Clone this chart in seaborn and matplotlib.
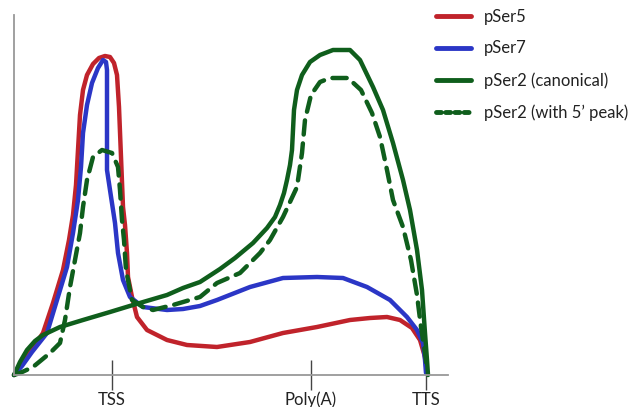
import matplotlib
matplotlib.use("Agg")
import matplotlib.pyplot as plt
import seaborn as sns
import pandas as pd

series_names = ["pSer5", "pSer7", "pSer2 (canonical)", "pSer2 (with 5\u2019 peak)"]

red_x = [0, 14, 29, 39, 49, 55, 59, 62, 64, 66, 69, 73, 79, 85, 91, 96, 100, 103, 105, 107, 109, 111, 113, 114,
         118, 123, 133, 153, 173, 203, 236, 269, 303, 336, 356, 373, 386, 398, 406, 411, 413]
red_y = [0, 20, 42, 72, 105, 135, 160, 190, 225, 260, 285, 300, 311, 317, 319, 318, 312, 300, 268, 218, 168, 150, 122, 98,
         78, 58, 45, 35, 30, 28, 33, 42, 48, 55, 57, 58, 55, 47, 35, 18, 2]

blue_x = [0, 8, 18, 33, 43, 53, 59, 64, 67, 69, 73, 78, 84, 89, 92, 93, 93, 93, 93, 96, 101, 104,
          109, 116, 129, 153, 169, 186, 203, 236, 269, 303, 329, 353, 376, 393, 403, 409, 411, 412]
blue_y = [0, 9, 23, 42, 75, 108, 142, 175, 208, 242, 270, 292, 307, 315, 313, 305, 275, 235, 205, 185, 152, 122,
          95, 78, 68, 65, 66, 69, 75, 88, 97, 98, 97, 88, 75, 58, 45, 32, 15, 2]

green_x = [0, 6, 13, 21, 29, 46, 69, 96, 119, 136, 153, 169, 186, 206, 221, 239, 253, 261, 266, 270, 273, 276, 278,
           279, 280, 283, 288, 296, 306, 319, 336, 346, 359, 369, 379, 389, 396, 403, 408, 411, 413, 414]
green_y = [0, 13, 25, 34, 40, 48, 55, 63, 70, 75, 80, 87, 93, 106, 117, 132, 147, 158, 170, 182, 195, 210, 225,
           245, 265, 285, 300, 313, 320, 325, 325, 315, 288, 265, 232, 195, 165, 125, 85, 42, 15, 0]

dash_x = [0, 6, 19, 36, 46, 51, 56, 61, 66, 69, 73, 79, 88, 98, 104, 106, 108, 110, 112, 118, 129,
          139, 159, 186, 203, 226, 246, 256, 269, 283, 288, 291, 297, 306, 316, 334, 347, 358, 366,
          373, 379, 389, 397, 403, 407, 411, 413]
dash_y = [0, 2, 8, 22, 32, 55, 88, 115, 142, 168, 195, 218, 225, 222, 208, 185, 155, 135, 105, 75, 68,
          65, 70, 78, 92, 102, 122, 135, 158, 188, 222, 255, 280, 293, 297, 297, 285, 262, 238,
          205, 175, 148, 115, 80, 48, 22, 5]

tick_pos = [98, 297, 412]
tick_labels = ["TSS", "Poly(A)", "TTS"]

colors = ["#C0232B", "#2B36C6", "#0F5E1C", "#0F5E1C"]

# ---- build long table ----
frames = []
for name, xs, ys in zip(series_names, [red_x, blue_x, green_x, dash_x], [red_y, blue_y, green_y, dash_y]):
    frames.append(pd.DataFrame({"x": xs, "y": ys, "series": name}))
df = pd.concat(frames, ignore_index=True)

sns.set_style("white")
plt.rcParams["font.family"] = ["Lato", "DejaVu Sans"]

fig = plt.figure(figsize=(6.34, 4.07), dpi=100)
ax = fig.add_axes([14 / 634, 32 / 407, 434 / 634, 360 / 407])

sns.lineplot(data=df, x="x", y="y", hue="series", style="series", sort=False, estimator=None,
             units="series", hue_order=series_names, style_order=series_names,
             palette=dict(zip(series_names, colors)),
             dashes={series_names[0]: "", series_names[1]: "", series_names[2]: "",
                     series_names[3]: (3.2, 2.0)},
             linewidth=3.2, ax=ax, legend=True)

for ln in ax.get_lines():
    ln.set_clip_on(False)
    ln.set_solid_capstyle("round")
    ln.set_solid_joinstyle("round")
    ln.set_dash_capstyle("round")
    ln.set_dash_joinstyle("round")

ax.set_xlim(0, 434)
ax.set_ylim(0, 360)
ax.set_xlabel("")
ax.set_ylabel("")
ax.set_yticks([])
ax.set_xticks(tick_pos)
ax.set_xticklabels(tick_labels)
ax.tick_params(axis="x", bottom=True, direction="inout", length=22, width=1, color="#444444",
               labelsize=12, labelcolor="#222222", pad=1)
for s in ["top", "right"]:
    ax.spines[s].set_visible(False)
for s in ["left", "bottom"]:
    ax.spines[s].set_color("#999999")
    ax.spines[s].set_linewidth(1.3)

handles, labels = ax.get_legend_handles_labels()
ax.get_legend().remove()
leg = fig.legend(handles, labels, loc="upper left", bbox_to_anchor=(436 / 634, 1 - 9 / 407),
                 frameon=False, fontsize=12, handlelength=2.1, handletextpad=0.8,
                 labelspacing=0.93, borderaxespad=0, borderpad=0)
for i, ln in enumerate(leg.get_lines()):
    ln.set_linewidth(3.5)
    ln.set_solid_capstyle("round")
    if i == 3:
        ln.set_dashes((1.0, 0.9))
        ln.set_dash_capstyle("round")
for t in leg.get_texts():
    t.set_color("#222222")

fig.savefig("out.png", dpi=100)
